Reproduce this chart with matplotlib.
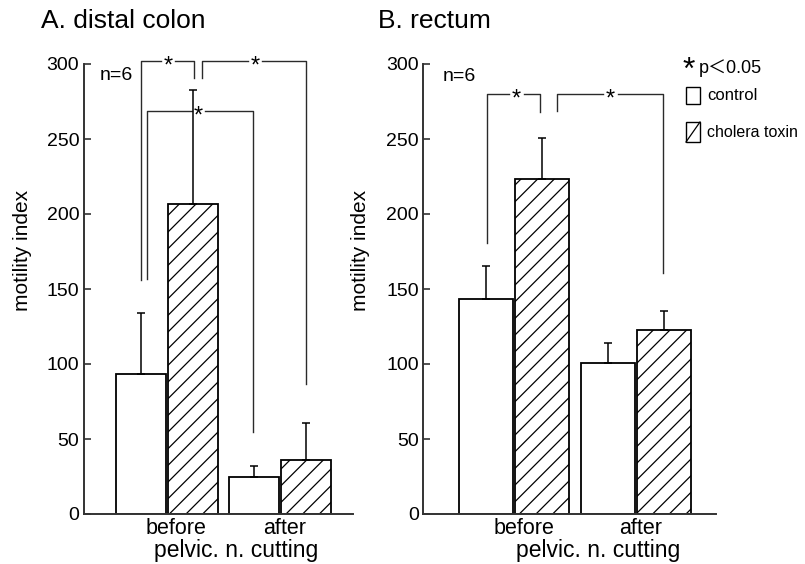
from matplotlib import pyplot as plt
from matplotlib.patches import Rectangle
from matplotlib.lines import Line2D
import numpy as np

# values (motility index, mean and upper SE)
groups = ["before", "after"]
colon_control = [93.5, 25]
colon_control_err = [40.5, 7]
colon_toxin = [207, 36]
colon_toxin_err = [76, 24.5]
rectum_control = [143.5, 101]
rectum_control_err = [22, 13]
rectum_toxin = [223.5, 123]
rectum_toxin_err = [27.5, 12.5]

# significance brackets: (left x, right x, top, left end, right end, star x)
colon_brackets = [
    (-0.23, 0.24, 302, 156, 291, 0.01),
    (0.31, 1.23, 302, 291, 87, 0.78),
    (-0.18, 0.76, 269, 157, 55, 0.28),
]
rectum_brackets = [
    (-0.22, 0.21, 280, 181, 268, 0.02),
    (0.35, 1.22, 280, 269, 161, 0.79),
]

W, H = 805, 564
plt.rcParams['font.family'] = ['Liberation Sans', 'DejaVu Sans']
plt.rcParams['hatch.linewidth'] = 0.9
LINE = '#2a2a2a'


def px(x, y):
    # pixel position (from top-left) to figure fraction
    return x / W, 1 - y / H


def panel(ax, control, control_err, toxin, toxin_err, brackets, xlim):
    x = np.arange(len(groups))
    off = 0.23
    wid = 0.44
    ax.bar(x - off, control, wid, color='white', edgecolor='black', linewidth=1.3, zorder=2)
    ax.bar(x + off, toxin, wid, color='white', edgecolor='black', linewidth=1.3,
           hatch='//', zorder=2)
    ax.errorbar(x - off, control, yerr=[np.zeros(len(x)), control_err], fmt='none',
                ecolor='black', elinewidth=1.1, capsize=2.6, capthick=1.1, zorder=3)
    ax.errorbar(x + off, toxin, yerr=[np.zeros(len(x)), toxin_err], fmt='none',
                ecolor='black', elinewidth=1.1, capsize=2.6, capthick=1.1, zorder=3)
    gap = 0.06
    for (x1, x2, top, y1, y2, sx) in brackets:
        ax.plot([x1, x1, sx - gap], [y1, top, top], color=LINE, lw=1.0, clip_on=False)
        ax.plot([sx + gap, x2, x2], [top, top, y2], color=LINE, lw=1.0, clip_on=False)
        # the '*' glyph sits high, so nudge it down onto the line
        ax.annotate('*', (sx, top), xytext=(0, -4), textcoords='offset points',
                    fontsize=17, ha='center', va='center', annotation_clip=False)
    ax.set_xlim(*xlim)
    ax.set_ylim(0, 300)
    ax.set_yticks([0, 50, 100, 150, 200, 250, 300])
    ax.tick_params(axis='y', direction='in', length=5, width=1.2, color='#333333',
                   labelsize=14, pad=3)
    ax.set_xticks(x + np.array([0.08, 0.04]))
    ax.set_xticklabels(groups)
    ax.tick_params(axis='x', length=0, labelsize=15.5, pad=3)
    ax.set_xlabel('pelvic. n. cutting', fontsize=16.5, labelpad=0)
    for s in ['top', 'right']:
        ax.spines[s].set_visible(False)
    for s in ['left', 'bottom']:
        ax.spines[s].set_linewidth(1.4)
        ax.spines[s].set_color('#333333')
    pass


fig = plt.figure(figsize=(W / 100, H / 100), dpi=100)
ax1 = fig.add_axes([83.5 / W, 50 / H, 269.5 / W, 450 / H])
ax2 = fig.add_axes([423 / W, 50 / H, 293 / W, 450 / H])

panel(ax1, colon_control, colon_control_err, colon_toxin, colon_toxin_err,
      colon_brackets, (-0.739, 1.646))
panel(ax2, rectum_control, rectum_control_err, rectum_toxin, rectum_toxin_err,
      rectum_brackets, (-0.746, 1.656))
ax1.xaxis.set_label_coords((236 - 83.5) / 269.5, -0.056)
ax2.xaxis.set_label_coords((598 - 423) / 293, -0.056)

fig.text(*px(41, 28), 'A. distal colon', fontsize=19, ha='left', va='baseline')
fig.text(*px(378, 28), 'B. rectum', fontsize=19, ha='left', va='baseline')
fig.text(*px(22, 250), 'motility index', fontsize=15, rotation=90, ha='center', va='center')
fig.text(*px(360, 250), 'motility index', fontsize=15, rotation=90, ha='center', va='center')
fig.text(*px(100, 80), 'n=6', fontsize=14, ha='left', va='baseline')
fig.text(*px(443, 81), 'n=6', fontsize=14, ha='left', va='baseline')

# legend drawn by hand, as in the original figure
fig.text(*px(689, 71), '*', fontsize=23, ha='center', va='center')
fig.text(*px(699, 73), 'p\uff1c0.05', fontsize=13,
         family=['Liberation Sans', 'Noto Sans CJK JP'], ha='left', va='baseline')
fig.patches.append(Rectangle(px(686, 104), 14 / W, 17 / H, transform=fig.transFigure,
                             facecolor='white', edgecolor='black', lw=1.0))
fig.patches.append(Rectangle(px(686, 142), 14 / W, 20 / H, transform=fig.transFigure,
                             facecolor='white', edgecolor='black', lw=1.0))
fig.lines.append(Line2D([686 / W, 700 / W], [1 - 142 / H, 1 - 122 / H],
                        transform=fig.transFigure, color='black', lw=0.9))
fig.text(*px(707, 100), 'control', fontsize=12, ha='left', va='baseline')
fig.text(*px(707, 137), 'cholera toxin', fontsize=11.5, ha='left', va='baseline')

fig.savefig('out.png', dpi=100)
